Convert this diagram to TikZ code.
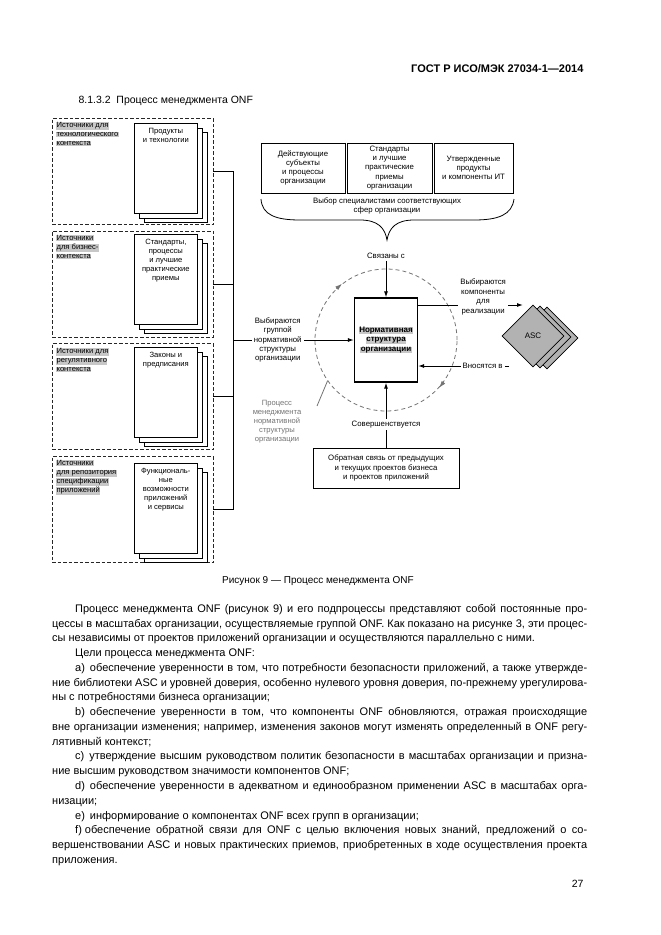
\documentclass[tikz,border=0pt]{standalone}
\usepackage{fontspec}
\setmainfont{Liberation Sans}
\usetikzlibrary{positioning,shapes.geometric,shadows,arrows.meta}

\definecolor{fon}{gray}{0.78}
\definecolor{serlin}{gray}{0.45}
\newcommand{\fonstr}[1]{{\setlength{\fboxsep}{0.4pt}\colorbox{fon}{#1}}}

\begin{document}
\begin{tikzpicture}[>={Latex[length=6pt,width=4pt]}, x=1pt, y=-1pt]

\useasboundingbox (0,0) rectangle (661,935);

% --- Stili ---
\tikzset{
    melk/.style={font=\fontsize{7.6}{9}\selectfont},
    istochnik/.style={
        draw=black!85,
        dash pattern=on 3.5pt off 2pt,
        line width=0.9pt,
        minimum width=161pt,
        minimum height=106pt,
        inner sep=0pt
    },
    podpis/.style={melk, align=left, anchor=north west, inner sep=0pt},
    list/.style={
        draw, fill=white, line width=0.7pt,
        minimum width=63pt, minimum height=90pt,
        anchor=north west, inner sep=0pt,
        double copy shadow={shadow xshift=5pt, shadow yshift=-4.5pt, fill=white, draw, line width=0.7pt}
    },
    listtekst/.style={melk, align=center, anchor=north, inner sep=0pt},
    blok/.style={draw, line width=0.8pt, font=\fontsize{7.8}{9.2}\selectfont, align=center, inner sep=1pt},
    strelka/.style={->, line width=1pt, draw=black},
    liniya/.style={line width=0.8pt},
    nadpis/.style={font=\fontsize{7.8}{9.4}\selectfont, align=center, fill=white, inner sep=2pt},
    krugstil/.style={
        circle, draw=serlin,
        dash pattern=on 4pt off 3pt,
        line width=0.8pt,
        minimum size=142pt, inner sep=0pt
    },
    krugstrelka/.style={-{Latex[length=7pt,width=4.5pt]}, draw=serlin, line width=0.8pt},
    romb/.style={diamond, draw, fill=gray!60, minimum width=62pt, minimum height=62pt, inner sep=0pt, line width=0.6pt},
    abzac/.style={font=\fontsize{11}{14.76}\selectfont, align=justify, text width=535pt, inner sep=0pt}
}

% --- Zagolovok ---
\node[anchor=base east, font=\bfseries\fontsize{11}{13}\selectfont] (gost) at (587,72) {ГОСТ Р ИСО/МЭК 27034-1—2014};
\node[anchor=base west, font=\fontsize{10.5}{13}\selectfont] (razdel) at (75,103) {8.1.3.2\ \ Процесс менеджмента ONF};

% --- Istochniki (sleva) ---
\node[istochnik] (ist1) at (132.5,171.5) {};
\node[istochnik] (ist2) at (132.5,284) {};
\node[istochnik] (ist3) at (132.5,396.5) {};
\node[istochnik] (ist4) at (132.5,509.5) {};

\node[podpis] (pod1) at (56,122) {\fonstr{Источники для}\\\fonstr{технологического}\\\fonstr{контекста}};
\node[podpis] (pod2) at (56,235) {\fonstr{Источники}\\\fonstr{для бизнес-}\\\fonstr{контекста}};
\node[podpis] (pod3) at (56,348) {\fonstr{Источники для}\\\fonstr{регулятивного}\\\fonstr{контекста}};
\node[podpis] (pod4) at (56,460) {\fonstr{Источники}\\\fonstr{для репозитория}\\\fonstr{спецификации}\\\fonstr{приложений}};

% --- Listy ---
\node[list] (list1) at (134,123) {};
\node[list] (list2) at (134,234) {};
\node[list] (list3) at (134,347) {};
\node[list] (list4) at (134,463) {};

\node[listtekst, below=5pt of list1.north] (lt1) {Продукты\\и технологии};
\node[listtekst, below=5pt of list2.north] (lt2) {Стандарты,\\процессы\\и лучшие\\практические\\приемы};
\node[listtekst, below=5pt of list3.north] (lt3) {Законы и\\предписания};
\node[listtekst, below=5pt of list4.north] (lt4) {Функциональ-\\ные\\возможности\\приложений\\и сервисы};

% --- Centr ---
\node[krugstil] (krug) at (386,340) {};
\node[draw, line width=1.2pt, minimum width=63pt, minimum height=84pt,
      font=\bfseries\fontsize{8}{9.5}\selectfont, align=center, inner sep=0pt]
      (norm) at (386,340) {\fonstr{Нормативная}\\\fonstr{структура}\\\fonstr{организации}};

\draw[krugstrelka] (krug.134) -- (krug.128);
\draw[krugstrelka] (krug.-36) -- (krug.-42);

% --- Verhnie bloki ---
\node[blok, minimum width=84pt, minimum height=50pt] (verh1) at (303,168) {Действующие\\субъекты\\и процессы\\организации};
\node[blok, minimum width=85pt, minimum height=50pt] (verh2) at (389.5,168) {Стандарты\\и лучшие\\практические\\приемы\\организации};
\node[blok, minimum width=79pt, minimum height=50pt] (verh3) at (473.5,168) {Утвержденные\\продукты\\и компоненты ИТ};

% skobka
\draw[liniya] (261,199) .. controls (262,215) and (276,220) .. (300,220)
    -- (360,220) .. controls (378,220) and (385,228) .. (387,240)
    .. controls (389,228) and (396,220) .. (414,220)
    -- (474,220) .. controls (498,220) and (512,215) .. (514,199);
\node[font=\fontsize{7.8}{9}\selectfont, align=center] (vybor) at (387,206) {Выбор специалистами соответствующих\\сфер организации};

\node[nadpis] (svyaz) at (386,256) {Связаны с};
\draw[strelka] (svyaz) -- (norm);

% --- Shina sleva ---
\coordinate (shina) at (233,0);
\draw[liniya] (ist1.east) -- (ist1.east -| shina) -- (ist4.east -| shina) -- (ist4.east);
\draw[liniya] (ist2.east) -- (ist2.east -| shina);
\draw[liniya] (ist3.east) -- (ist3.east -| shina);
\draw[strelka] (norm.west -| shina) -- node[nadpis, pos=0.37] {Выбираются\\группой\\нормативной\\структуры\\организации} (norm.west);

\node[melk, text=serlin, align=center] (proc) at (277,422) {Процесс\\менеджмента\\нормативной\\структуры\\организации};
\coordinate (ukaz) at (317,406);
\draw[serlin, line width=0.8pt] (ukaz) -- (krug.215);

% --- Sprava ---
\node[romb] (asc3) at (547,338) {};
\node[romb] (asc2) at (540,337) {};
\node[romb, font=\fontsize{8}{9}\selectfont] (asc) at (533,336) {ASC};

\coordinate (v2) at (523,305);
\draw[strelka] (norm.east |- v2) -- node[nadpis, pos=0.62, yshift=8pt] {Выбираются\\компоненты\\для\\реализации} (v2);
\coordinate (v3) at (509,366);
\draw[strelka] (v3) -- node[nadpis, pos=0.29] {Вносятся в} (norm.east |- v3);

% --- Snizu ---
\node[blok, minimum width=146pt, minimum height=40pt] (obr) at (386,468) {Обратная связь от предыдущих\\и текущих проектов бизнеса\\и проектов приложений};
\draw[strelka] (obr) -- node[nadpis, pos=0.35] {Совершенствуется} (norm);

% --- Podpis i tekst ---
\node[font=\fontsize{10}{12}\selectfont] (risunok) at (318,581) {Рисунок 9 — Процесс менеджмента ONF};

\node[abzac, anchor=north west] (tekst) at (52,604) {%
\tolerance=10000\hyphenpenalty=10000%
\hspace*{23pt}Процесс менеджмента ONF (рисунок 9) и его подпроцессы представляют собой постоянные про-\linebreak
цессы в масштабах организации, осуществляемые группой ONF. Как показано на рисунке 3, эти процес-\linebreak
сы независимы от проектов приложений организации и осуществляются параллельно с ними.\par
\hspace*{23pt}Цели процесса менеджмента ONF:\par
\hspace*{23pt}a)\hspace{5pt}обеспечение уверенности в том, что потребности безопасности приложений, а также утвержде-\linebreak
ние библиотеки ASC и уровней доверия, особенно нулевого уровня доверия, по-прежнему урегулирова-\linebreak
ны с потребностями бизнеса организации;\par
\hspace*{23pt}b)\hspace{5pt}обеспечение уверенности в том, что компоненты ONF обновляются, отражая происходящие\linebreak
вне организации изменения; например, изменения законов могут изменять определенный в ONF регу-\linebreak
лятивный контекст;\par
\hspace*{23pt}c)\hspace{5pt}утверждение высшим руководством политик безопасности в масштабах организации и призна-\linebreak
ние высшим руководством значимости компонентов ONF;\par
\hspace*{23pt}d)\hspace{5pt}обеспечение уверенности в адекватном и единообразном применении ASC в масштабах орга-\linebreak
низации;\par
\hspace*{23pt}e)\hspace{5pt}информирование о компонентах ONF всех групп в организации;\par
\hspace*{23pt}f)\hspace{3pt}обеспечение обратной связи для ONF с целью включения новых знаний, предложений о со-\linebreak
вершенствовании ASC и новых практических приемов, приобретенных в ходе осуществления проекта\linebreak
приложения.};

\node[anchor=base east, font=\fontsize{10.5}{13}\selectfont] (nomer) at (587,887) {27};

\end{tikzpicture}
\end{document}
